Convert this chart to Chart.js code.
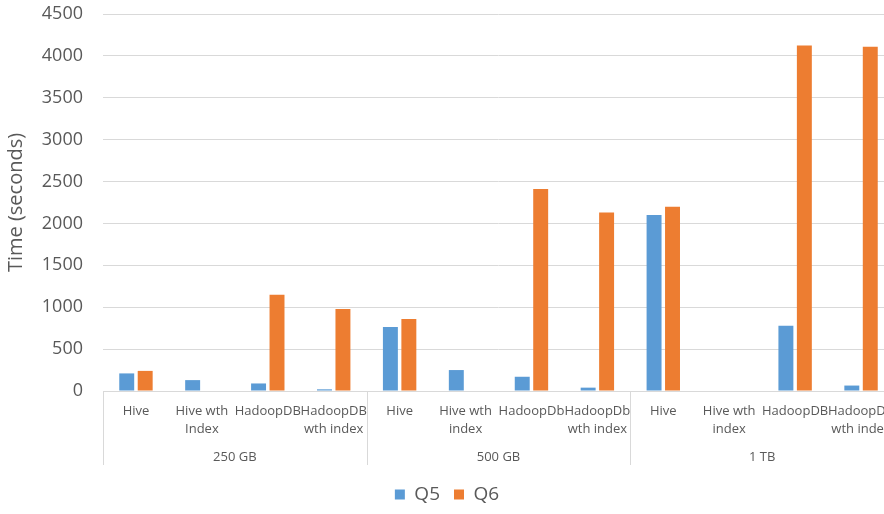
<!DOCTYPE html>
<html>
<head>
<meta charset="utf-8">
<script src="https://cdn.jsdelivr.net/npm/chart.js@4/dist/chart.umd.min.js"></script>
<style>
  html,body{margin:0;padding:0;background:#fff;overflow:hidden;}
  #wrap{position:absolute;left:0;top:0;width:910px;height:514px;}
</style>
</head>
<body>
<div id="wrap"><canvas id="chart"></canvas></div>
<script>
/* ===== Data ===== */
const groups = ['250 GB','500 GB','1 TB'];
const categories = [
  ['Hive'], ['Hive wth','Index'], ['HadoopDB'], ['HadoopDB','wth index'],
  ['Hive'], ['Hive wth','index'], ['HadoopDb'], ['HadoopDb','wth index'],
  ['Hive'], ['Hive wth','index'], ['HadoopDB'], ['HadoopDB','wth index']
];
const q5 = [210, 130, 90, 20, 765, 250, 170, 40, 2100, 0, 780, 65];
const q6 = [240, 0, 1150, 980, 860, 0, 2410, 2130, 2200, 0, 4125, 4110];
const yTicks = {min:0, max:4500, step:500};

/* ===== Helpers ===== */
const FONT = "'Open Sans', 'Noto Sans', sans-serif";
const TXT = '#595959', GRID = '#d9d9d9';

// group separators below the baseline, taken from the category scale
const groupLines = {
  id:'groupLines',
  afterDraw(chart){
    const x = chart.scales.x, x2 = chart.scales.x2, ca = chart.chartArea, ctx = chart.ctx;
    const half = (x.getPixelForValue(1) - x.getPixelForValue(0)) / 2;
    const per = categories.length / groups.length;
    ctx.save();
    ctx.strokeStyle = GRID; ctx.lineWidth = 1;
    for(let g=0; g<=groups.length; g++){
      const px = Math.round(x.getPixelForValue(g*per) - half) + 0.5;
      ctx.beginPath(); ctx.moveTo(px, ca.bottom); ctx.lineTo(px, x2.bottom - 6); ctx.stroke();
    }
    ctx.restore();
  }
};

/* ===== Chart ===== */
new Chart(document.getElementById('chart'), {
  type:'bar',
  data:{
    labels:categories,
    datasets:[
      {label:'Q5', data:q5, backgroundColor:'#5B9BD5', categoryPercentage:0.56, barPercentage:0.81},
      {label:'Q6', data:q6, backgroundColor:'#ED7D31', categoryPercentage:0.56, barPercentage:0.81}
    ]
  },
  options:{
    responsive:true, maintainAspectRatio:false, animation:false,
    layout:{padding:{top:14, right:16, left:0, bottom:0}},
    plugins:{
      tooltip:{enabled:false},
      legend:{
        position:'bottom',
        labels:{boxWidth:10, boxHeight:10, padding:14, color:TXT, font:{family:FONT, size:19}}
      }
    },
    scales:{
      y:{
        min:yTicks.min, max:yTicks.max,
        ticks:{stepSize:yTicks.step, color:TXT, padding:20, font:{family:FONT, size:18}, callback:v=>String(v)},
        grid:{color:GRID, drawTicks:false},
        border:{display:false},
        title:{display:true, text:'Time (seconds)', color:TXT, font:{family:FONT, size:20}, padding:{top:4, bottom:0}},
        // fixed axis width; tick padding should not push the plot down
        afterFit(s){ s.width = 103; s.paddingTop = 0; s.paddingBottom = 0; }
      },
      x:{
        weight:0,
        ticks:{color:TXT, padding:11, autoSkip:false, maxRotation:0, minRotation:0, font:{family:FONT, size:13, lineHeight:1.4}},
        grid:{display:false, drawTicks:false},
        border:{display:true, color:GRID, width:1},
        afterFit(s){ s.height = 52; }
      },
      x2:{
        type:'category', labels:groups, position:'bottom', weight:1, offset:true,
        ticks:{color:TXT, padding:6, font:{family:FONT, size:13}},
        grid:{display:false, drawTicks:false},
        border:{display:false},
        afterFit(s){ s.height = 28; }
      }
    }
  },
  plugins:[groupLines]
});
</script>
</body>
</html>
